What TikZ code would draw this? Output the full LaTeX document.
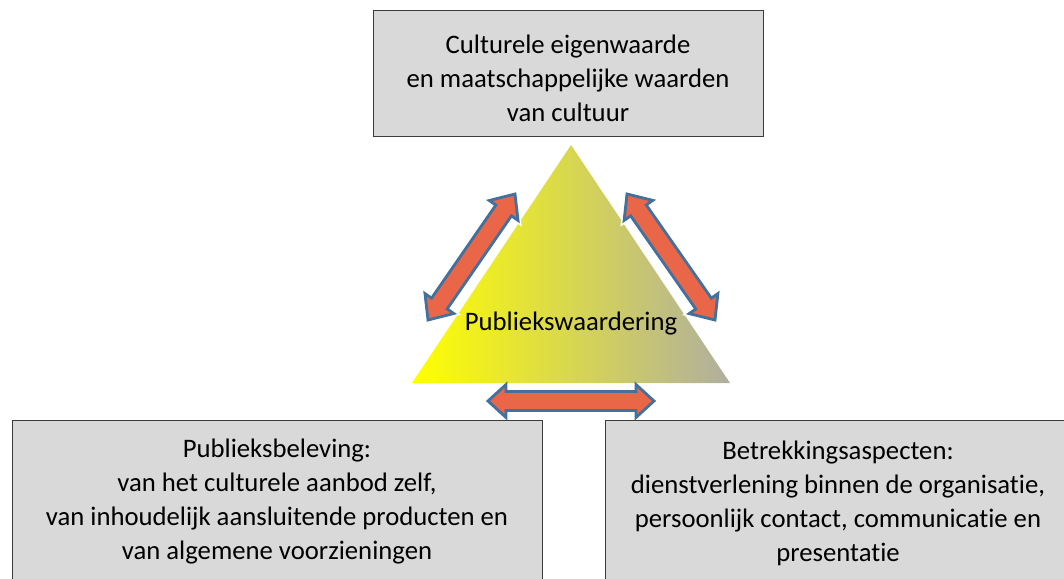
\documentclass[tikz,border=0pt]{standalone}
\usepackage{fontspec}
\setmainfont[Ligatures={NoCommon}]{Carlito}
\usetikzlibrary{calc}
\definecolor{boxfill}{RGB}{217,217,217}
\definecolor{boxline}{RGB}{60,60,60}
\definecolor{arrfill}{RGB}{233,102,72}
\definecolor{arrline}{RGB}{65,113,156}
\definecolor{trigray}{RGB}{176,174,160}
\tikzset{
  boxstyle/.style={draw=boxline, line width=1pt, fill=boxfill, rectangle, inner sep=0pt},
  txt/.style={align=center, inner sep=0pt, font=\fontsize{26.7}{34}\selectfont},
  arrowshape/.style={draw=arrline, fill=arrfill, line width=2.8pt, line join=miter},
  arrowhalo/.style={draw=white, line width=6pt, line join=miter},
}
% #1 style, #2 tip a, #3 tip b, #4 head length, #5 head half width, #6 shaft half width
\newcommand\arrowpath[6]{%
  \draw[#1] (#2)
    -- ($(#2)!#4!(#3)!#5!90:(#3)$)
    -- ($(#2)!#4!(#3)!#6!90:(#3)$)
    -- ($(#3)!#4!(#2)!#6!-90:(#2)$)
    -- ($(#3)!#4!(#2)!#5!-90:(#2)$)
    -- (#3)
    -- ($(#3)!#4!(#2)!#5!90:(#2)$)
    -- ($(#3)!#4!(#2)!#6!90:(#2)$)
    -- ($(#2)!#4!(#3)!#6!-90:(#3)$)
    -- ($(#2)!#4!(#3)!#5!-90:(#3)$)
    -- cycle;}
\newcommand\dblarrow[5]{%
  \arrowpath{arrowhalo}{#1}{#2}{#3}{#4}{#5}%
  \arrowpath{arrowshape}{#1}{#2}{#3}{#4}{#5}}
\begin{document}
\begin{tikzpicture}[x=1pt,y=-1pt]
\useasboundingbox (0,0) rectangle (1064,578);
\clip (0,0) rectangle (1064,578);
% top box
\node[boxstyle, minimum width=390pt, minimum height=125pt] (topbox) at (568,73.5) {};
\node[txt] (toptext) at (568,78) {Culturele eigenwaarde\\ en maatschappelijke waarden\\van cultuur};
% bottom boxes
\node[boxstyle, minimum width=530pt, minimum height=200pt, anchor=north] (lbox) at (277,420) {};
\node[txt] (ltext) at (277,501.5) {Publieksbeleving:\\van het culturele aanbod zelf,\\van inhoudelijk aansluitende producten en\\van algemene voorzieningen};
\node[boxstyle, minimum width=470pt, minimum height=200pt, anchor=north west] (rbox) at (605,420) {};
\node[txt] (rtext) at (838,503.5) {Betrekkingsaspecten:\\dienstverlening binnen de organisatie,\\persoonlijk contact, communicatie en\\presentatie};
% triangle
\coordinate (tl) at (412,383);
\coordinate (tt) at (571,145);
\coordinate (tr) at (730,383);
\shade[left color=yellow, right color=trigray] (tl) -- (tt) -- (tr) -- cycle;
% arrows
\coordinate (la) at (428,320);
\coordinate (lb) at (515,194);
\coordinate (ra) at (627,194);
\coordinate (rb) at (715,320);
\coordinate (ba) at (488,401);
\coordinate (bb) at (654,401);
\dblarrow{la}{lb}{20pt}{17.5pt}{9.5pt}
\dblarrow{ra}{rb}{20pt}{17.5pt}{9.5pt}
\arrowpath{arrowshape}{ba}{bb}{18pt}{16.5pt}{9.5pt}
% centre label
\node[txt] (center) at (571,324) {Publiekswaardering};
\end{tikzpicture}
\end{document}
